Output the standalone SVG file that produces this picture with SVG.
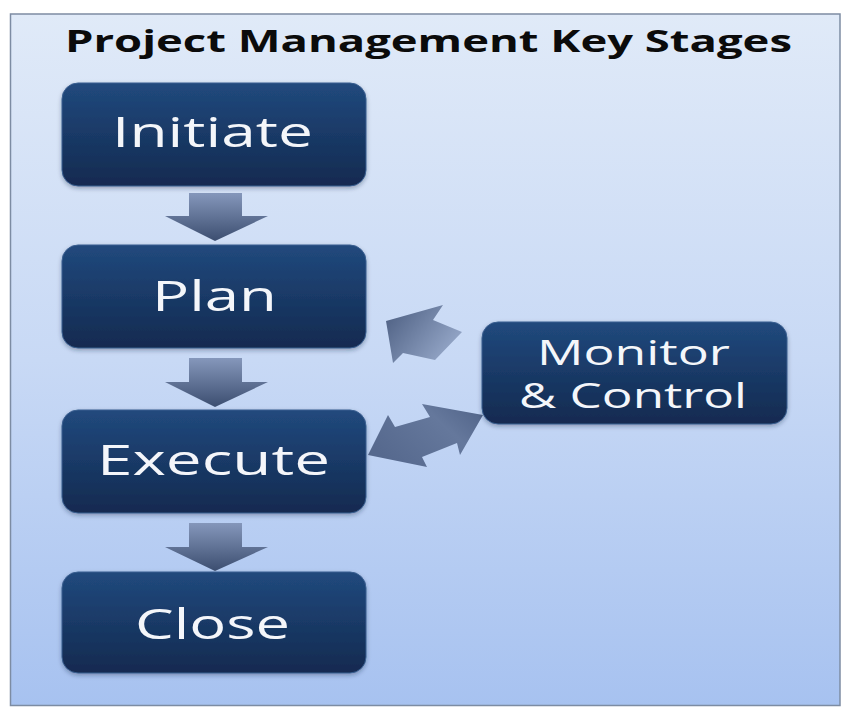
<svg xmlns="http://www.w3.org/2000/svg" width="851" height="716" viewBox="0 0 851 716">
  <defs>
    <linearGradient id="bg" x1="0" y1="0" x2="0" y2="1">
      <stop offset="0" stop-color="#e0eaf8"/>
      <stop offset="0.5" stop-color="#c8d9f5"/>
      <stop offset="1" stop-color="#a7c2f0"/>
    </linearGradient>
    <linearGradient id="box" x1="0" y1="0" x2="0" y2="1">
      <stop offset="0" stop-color="#21497d"/>
      <stop offset="1" stop-color="#122a50"/>
    </linearGradient>
    <linearGradient id="down" x1="0" y1="0" x2="0" y2="1">
      <stop offset="0" stop-color="#8597bb"/>
      <stop offset="1" stop-color="#3c4e70"/>
    </linearGradient>
    <linearGradient id="diag1" x1="0" y1="0" x2="1" y2="0.6">
      <stop offset="0" stop-color="#4a5c7f"/>
      <stop offset="1" stop-color="#95a7c8"/>
    </linearGradient>
    <linearGradient id="diag2" x1="0" y1="0.6" x2="1" y2="0">
      <stop offset="0" stop-color="#56698e"/>
      <stop offset="0.6" stop-color="#65789c"/>
      <stop offset="1" stop-color="#4f6287"/>
    </linearGradient>
    <filter id="sh" x="-10%" y="-10%" width="120%" height="130%">
      <feDropShadow dx="0" dy="2" stdDeviation="2" flood-color="#1a2a45" flood-opacity="0.35"/>
    </filter>
  </defs>
  <style>
    .node rect { fill: url(#box); stroke: #3a5f90; stroke-width: 1; filter: url(#sh); }
    .lbl { font-family: "Open Sans", "Liberation Sans", sans-serif; fill: #f4f6fa; text-anchor: start; }
    .big { font-size: 42px; }
    .mid { font-size: 35px; }
    .title { font-family: "Open Sans", "Liberation Sans", sans-serif; font-weight: bold; font-size: 30px; fill: #0b0b0b; }
    .dn { fill: url(#down); }
  </style>

  <rect x="0" y="0" width="851" height="716" fill="#ffffff"/>
  <rect id="frame" x="10.5" y="14" width="829.5" height="691.5" fill="url(#bg)" stroke="#7d8ca3" stroke-width="1.5"/>

  <text class="title" x="65" y="52" textLength="727" lengthAdjust="spacingAndGlyphs">Project Management Key Stages</text>

  <g id="connectors">
    <polygon class="dn" points="189,193 242,193 242,216 268,216 215,241 165,216 189,216"/>
    <polygon class="dn" points="189,358 242,358 242,382 268,382 215,407 165,382 189,382"/>
    <polygon class="dn" points="189,523 242,523 242,547 268,547 215,571 165,547 189,547"/>
    <polygon fill="url(#diag1)" points="386,321 443,305 433,320 462,332 435,360 403,353 393,363"/>
    <polygon fill="url(#diag2)" points="368,455 388,415 395,427 430,417 422,404 483,415 460,455 457,443 422,457 427,467"/>
  </g>

  <g id="initiate" class="node">
    <rect x="62" y="83" width="304" height="103" rx="16"/>
    <text class="lbl big" x="112" y="147" textLength="201" lengthAdjust="spacingAndGlyphs">Initiate</text>
  </g>
  <g id="plan" class="node">
    <rect x="62" y="245" width="304" height="103" rx="16"/>
    <text class="lbl big" x="152" y="311" textLength="125" lengthAdjust="spacingAndGlyphs">Plan</text>
  </g>
  <g id="execute" class="node">
    <rect x="62" y="410" width="304" height="103" rx="16"/>
    <text class="lbl big" x="97" y="475" textLength="233" lengthAdjust="spacingAndGlyphs">Execute</text>
  </g>
  <g id="close" class="node">
    <rect x="62" y="572" width="304" height="101" rx="16"/>
    <text class="lbl big" x="135" y="639" textLength="155" lengthAdjust="spacingAndGlyphs">Close</text>
  </g>
  <g id="monitor" class="node">
    <rect x="482" y="322" width="305" height="102" rx="16"/>
    <text class="lbl mid" x="537" y="365" textLength="193" lengthAdjust="spacingAndGlyphs">Monitor</text>
    <text class="lbl mid" x="519" y="408" textLength="228" lengthAdjust="spacingAndGlyphs">&amp; Control</text>
  </g>
</svg>
